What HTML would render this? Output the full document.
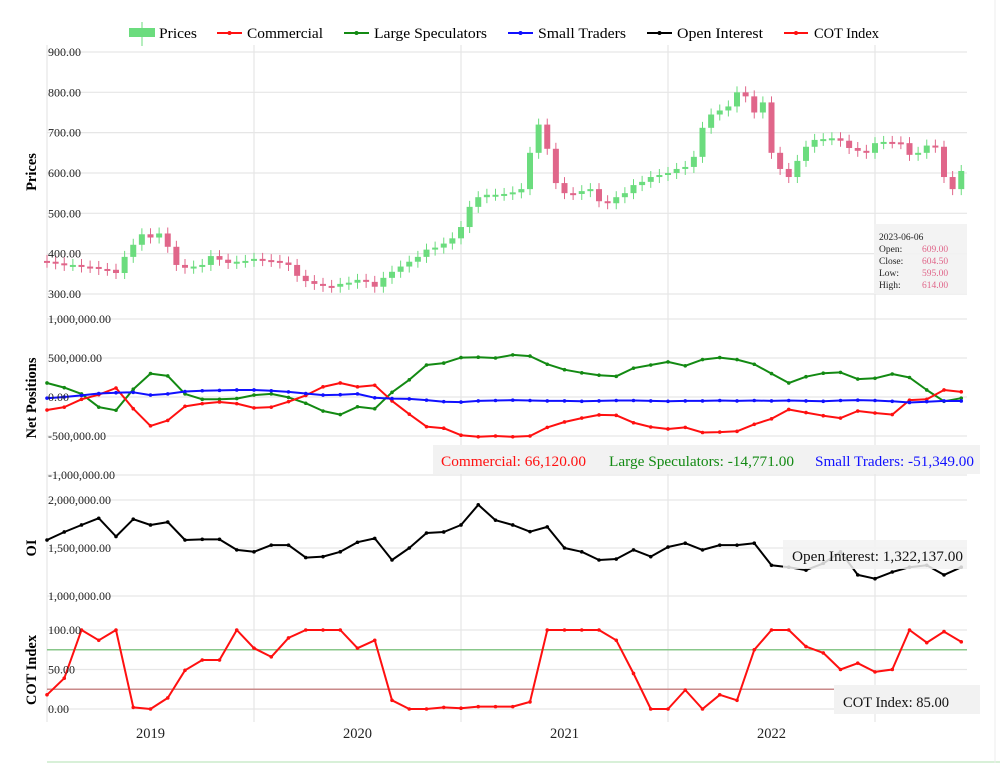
<!DOCTYPE html>
<html><head><meta charset="utf-8">
<style>
html,body{margin:0;padding:0;background:#fff;}
body{width:1000px;height:763px;overflow:hidden;font-family:"Liberation Serif","DejaVu Serif",serif;}
svg{display:block;}
text{font-family:"Liberation Serif","DejaVu Serif",serif;}
</style></head>
<body>
<svg id="chart" width="1000" height="763" viewBox="0 0 1000 763">
  <g id="grid"></g>
  <g id="marks"></g>
  <g id="labels"></g>
</svg>
<script>
// ---- data (monthly samples from Jan 2019) ----
const priceCloses = [380,376,372,372,368,367,362,360,352,392,422,448,440,450,417,372,365,368,372,394,385,377,380,382,387,384,382,378,372,345,332,325,320,318,325,328,335,330,318,340,355,368,380,392,410,415,425,438,466,516,540,546,546,548,552,560,650,720,660,575,550,548,555,560,530,525,540,550,570,578,590,595,600,610,615,640,712,745,755,765,800,790,750,775,650,610,590,630,665,682,684,686,680,662,655,650,674,677,676,674,645,650,668,665,590,560,605];
const commercial = [-167,-130,-30,30,115,-150,-370,-300,-120,-85,-64,-85,-140,-130,-60,20,130,180,130,150,-50,-220,-380,-400,-490,-510,-500,-510,-500,-390,-320,-270,-230,-235,-330,-385,-410,-390,-455,-450,-440,-350,-280,-160,-200,-240,-270,-180,-205,-225,-40,-30,90,66];
const largeSpec = [180,120,40,-130,-170,100,300,270,40,-30,-30,-20,25,40,-5,-80,-180,-225,-125,-150,60,220,410,435,505,510,500,540,525,420,350,310,280,265,370,410,450,400,480,505,480,420,300,180,260,305,315,230,240,295,250,90,-55,-15];
const smallTraders = [-15,0,20,45,55,60,25,40,70,80,85,90,90,80,65,45,25,30,40,-10,-20,-25,-40,-60,-65,-50,-45,-40,-45,-50,-50,-55,-50,-45,-45,-50,-55,-50,-50,-45,-50,-45,-50,-45,-50,-55,-45,-40,-45,-55,-70,-60,-50,-51];
const openInterest = [1.583,1.667,1.74,1.81,1.62,1.80,1.74,1.77,1.583,1.59,1.59,1.48,1.46,1.53,1.53,1.40,1.41,1.46,1.56,1.60,1.375,1.50,1.656,1.667,1.74,1.95,1.79,1.74,1.67,1.72,1.50,1.46,1.375,1.385,1.48,1.41,1.51,1.55,1.48,1.53,1.53,1.55,1.32,1.30,1.27,1.34,1.46,1.22,1.18,1.25,1.30,1.32,1.22,1.30];
const cotIndex = [18,39,100,87,100,2,0,14,49,62,62,100,77,66,90,100,100,100,77,87,11,0,0,2,1,3,3,3,9,100,100,100,100,87,45,0,0,24,0,18,11,75,100,100,79,71,50,58,47,50,100,84,98,85];
const priceTicks = [900,800,700,600,500,400,300];
const netTicks = [1000000,500000,0,-500000,-1000000];
const oiTicks = [2000000,1500000,1000000];
const cotTicks = [100,50,0];
const yearLabels = ["2019","2020","2021","2022"];

const NS="http://www.w3.org/2000/svg";
const grid=document.getElementById('grid'),marks=document.getElementById('marks'),labels=document.getElementById('labels');
function el(tag,attrs,parent){const e=document.createElementNS(NS,tag);for(const k in attrs)e.setAttribute(k,attrs[k]);parent.appendChild(e);return e;}
const L=47,R=967,YEAR=207;
const xMonth=t=>L+t*YEAR/12;
const xHalf=i=>L+i*YEAR/24;
const yPrice=p=>52+(900-p)*0.4033;
const yNet=v=>397-v/500000*39;
const yOI=v=>596-(v-1000000)/1000000*96;
const yCOT=v=>709-v*0.79;
function fmt(v){return v.toLocaleString('en-US',{minimumFractionDigits:2,maximumFractionDigits:2});}

for(let k=1;k<=4;k++){
  const g=el('line',{x1:L+k*YEAR,x2:L+k*YEAR,y1:45,y2:722,stroke:'#e6e6e6','stroke-width':1.2},grid);
  
  
}
const ax=el('line',{x1:L,x2:L,y1:45,y2:722,stroke:'#e0e0e0','stroke-width':1},grid);



function hTicks(ticks,yf,name){
  ticks.forEach(v=>{
    const y=yf(v);
    const g=el('line',{x1:L,x2:R,y1:y,y2:y,stroke:'#e6e6e6','stroke-width':1.2},grid);
    
    
    const t=el('text',{x:L+1,y:y+4,'font-size':12,fill:'#222'},labels);
    t.textContent=fmt(v);
    
    
  });
}
hTicks(priceTicks,yPrice,'price');
hTicks(netTicks,yNet,'net');
hTicks(oiTicks,yOI,'oi');
hTicks(cotTicks,yCOT,'cot');

const hi=el('line',{x1:L,x2:R,y1:yCOT(75),y2:yCOT(75),stroke:'#88c78a','stroke-width':1.5},grid);


const lo=el('line',{x1:L,x2:R,y1:yCOT(25),y2:yCOT(25),stroke:'#c98a8a','stroke-width':1.5},grid);



for(let i=0;i<priceCloses.length;i++){
  const c=priceCloses[i],o=i>0?priceCloses[i-1]:c+2;
  const up=c>=o,col=up?'#6bdc7e':'#e0668a';
  const x=xHalf(i),yt=yPrice(Math.max(o,c)),yb=yPrice(Math.min(o,c));
  const w=el('line',{x1:x,x2:x,y1:yt-6,y2:yb+6,stroke:col,'stroke-width':1},marks);
  
  
  const r=el('rect',{x:x-3,y:yt,width:6,height:Math.max(2,yb-yt),fill:col},marks);
  
  
}

function series(vals,xf,yf,col,name){
  const pts=vals.map((v,i)=>xf(i).toFixed(1)+','+yf(v).toFixed(1)).join(' ');
  const p=el('polyline',{points:pts,fill:'none',stroke:col,'stroke-width':2,'stroke-linejoin':'round'},marks);
  
  
  vals.forEach((v,i)=>{
    const c=el('circle',{cx:xf(i),cy:yf(v),r:1.8,fill:col},marks);
    
    
  });
}
series(largeSpec.map(v=>v*1000),xMonth,yNet,'#138a13','large-speculators');
series(commercial.map(v=>v*1000),xMonth,yNet,'#ff1010','commercial');
series(smallTraders.map(v=>v*1000),xMonth,yNet,'#1010ff','small-traders');
series(openInterest.map(v=>v*1000000),xMonth,yOI,'#000','open-interest');
series(cotIndex,xMonth,yCOT,'#ff1010','cot-index');

yearLabels.forEach((s,k)=>{
  const t=el('text',{x:L+(k+0.5)*YEAR,y:738,'font-size':14.5,'text-anchor':'middle',fill:'#222'},labels);
  t.textContent=s;
  
  
});
</script>
<svg width="1000" height="763" style="position:absolute;left:0;top:0">
  <text transform="translate(36,172) rotate(-90)" text-anchor="middle" font-size="14.5" font-weight="bold">Prices</text>
  <text transform="translate(36,398) rotate(-90)" text-anchor="middle" font-size="14.5" font-weight="bold">Net Positions</text>
  <text transform="translate(36,548) rotate(-90)" text-anchor="middle" font-size="14.5" font-weight="bold">OI</text>
  <text transform="translate(36,670) rotate(-90)" text-anchor="middle" font-size="14.5" font-weight="bold">COT Index</text>
  <g font-size="15">
    <g><line x1="142" x2="142" y1="22" y2="46" stroke="#6bdc7e" stroke-width="1"/><rect x="129" y="28" width="26" height="9" fill="#6bdc7e"/><text x="159" y="38" textLength="38" lengthAdjust="spacingAndGlyphs">Prices</text></g>
    <g><line x1="217" x2="242" y1="33" y2="33" stroke="#ff1010" stroke-width="2"/><circle cx="229.5" cy="33" r="2" fill="#ff1010"/><text x="247" y="38" textLength="76" lengthAdjust="spacingAndGlyphs">Commercial</text></g>
    <g><line x1="344" x2="369" y1="33" y2="33" stroke="#138a13" stroke-width="2"/><circle cx="356.5" cy="33" r="2" fill="#138a13"/><text x="374" y="38" textLength="113" lengthAdjust="spacingAndGlyphs">Large Speculators</text></g>
    <g><line x1="508" x2="533" y1="33" y2="33" stroke="#1010ff" stroke-width="2"/><circle cx="520.5" cy="33" r="2" fill="#1010ff"/><text x="538" y="38" textLength="88" lengthAdjust="spacingAndGlyphs">Small Traders</text></g>
    <g><line x1="647" x2="672" y1="33" y2="33" stroke="#000" stroke-width="2"/><circle cx="659.5" cy="33" r="2" fill="#000"/><text x="677" y="38" textLength="86" lengthAdjust="spacingAndGlyphs">Open Interest</text></g>
    <g><line x1="784" x2="808" y1="33" y2="33" stroke="#ff1010" stroke-width="2"/><circle cx="796" cy="33" r="2" fill="#ff1010"/><text x="814" y="38" textLength="65" lengthAdjust="spacingAndGlyphs">COT Index</text></g>
  </g>
  <g font-size="9.5">
    <rect x="874" y="224" width="93" height="70" fill="#f2f2f2" fill-opacity="0.92"/>
    <text x="879" y="240" fill="#222">2023-06-06</text>
    <text x="879" y="252" fill="#222">Open:</text><text x="922" y="252" fill="#e0668a">609.00</text>
    <text x="879" y="264" fill="#222">Close:</text><text x="922" y="264" fill="#e0668a">604.50</text>
    <text x="879" y="276" fill="#222">Low:</text><text x="922" y="276" fill="#e0668a">595.00</text>
    <text x="879" y="288" fill="#222">High:</text><text x="922" y="288" fill="#e0668a">614.00</text>
  </g>
  <g font-size="14.5">
    <rect x="433" y="445" width="547" height="29" fill="#f2f2f2"/>
    <text x="441" y="466" fill="#ff1010" textLength="145" lengthAdjust="spacingAndGlyphs">Commercial: 66,120.00</text>
    <text x="609" y="466" fill="#138a13" textLength="185" lengthAdjust="spacingAndGlyphs">Large Speculators: -14,771.00</text>
    <text x="815" y="466" fill="#1010ff" textLength="159" lengthAdjust="spacingAndGlyphs">Small Traders: -51,349.00</text>
  </g>
  <g font-size="14.5">
    <rect x="783" y="540" width="184" height="29" fill="#f2f2f2" fill-opacity="0.85"/>
    <text x="792" y="561" fill="#111" textLength="171" lengthAdjust="spacingAndGlyphs">Open Interest: 1,322,137.00</text>
  </g>
  <g font-size="14.5">
    <rect x="834" y="685" width="146" height="29" fill="#f2f2f2"/>
    <text x="843" y="707" fill="#111" textLength="106" lengthAdjust="spacingAndGlyphs">COT Index: 85.00</text>
  </g>
  <line x1="47" x2="1000" y1="762" y2="762" stroke="#d8f0d8" stroke-width="2"/>
  <line x1="995" x2="995" y1="0" y2="763" stroke="#eeeeee" stroke-width="1"/>
</svg>
</body></html>
